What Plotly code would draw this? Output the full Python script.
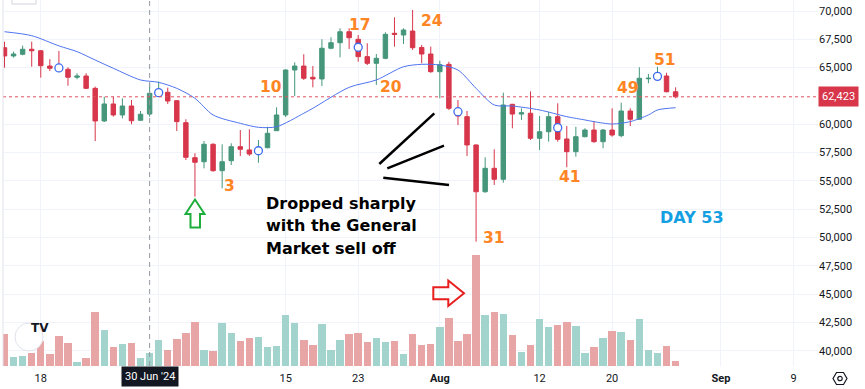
import pandas as pd
import plotly.graph_objects as go

# ---------------- data ----------------
dates = pd.date_range("2024-06-14", periods=75, freq="D")

open_ = [66760, 66030, 66180, 66620, 66490, 65140, 65140, 64850, 64150, 64260,
         63170, 60290, 61790, 60820, 61610, 60350, 60900, 62730, 62820, 62080,
         60140, 57050, 56690, 58230, 55900, 56780, 58020, 57730, 57550, 57930,
         59430, 60820, 64790, 65140, 64150, 64000, 66710, 67200, 68170, 67500,
         65970, 65380, 65820, 68030, 67880, 68230, 66780, 66200, 64640, 65290,
         61320, 60670, 58170, 54040, 56110, 55140, 61760, 60900, 60970, 58760,
         59340, 60670, 58700, 57580, 58900, 59490, 58460, 59490, 58990, 61170,
         60440, 64020, 64170, 64260, 62870]
high = [67290, 66410, 66940, 67290, 66550, 65740, 66470, 65030, 64500, 64500,
        63320, 62430, 62430, 62290, 62140, 61170, 63620, 63760, 63230, 62140,
        60440, 57440, 58520, 58320, 58230, 58320, 59490, 59550, 58610, 59780,
        61500, 64850, 65470, 66180, 65140, 67500, 67680, 68470, 68470, 67880,
        67150, 66200, 68120, 69440, 68470, 70090, 67000, 66850, 65610, 65520,
        62140, 61170, 58230, 57080, 57790, 62790, 61800, 61410, 62900, 60730,
        61110, 61850, 59850, 59780, 59640, 60290, 59580, 61410, 61900, 61410,
        65030, 64440, 65080, 64550, 63260]
low = [64990, 65880, 66090, 65080, 64110, 64700, 64880, 63400, 63970, 63100,
       58520, 60200, 60670, 60520, 60000, 60310, 60670, 62670, 61790, 59400,
       56840, 53600, 56110, 55810, 54340, 56400, 57200, 57200, 56600, 57880,
       59430, 60640, 62490, 63910, 63260, 63380, 66620, 65910, 66650, 65520,
       65230, 63470, 65740, 66850, 67090, 66560, 65380, 64550, 62290, 61260,
       59930, 57200, 49630, 53950, 54640, 54840, 59640, 60380, 58610, 57730,
       58460, 58460, 56200, 57140, 58850, 58370, 57880, 58900, 58850, 59850,
       60380, 63620, 64080, 62820, 62290]
close = [66030, 66200, 66620, 66490, 65170, 64940, 64970, 64150, 64260, 63170,
         60290, 61790, 60820, 61610, 60310, 60880, 62730, 63020, 62050, 60230,
         57080, 56640, 58230, 55900, 56690, 58020, 57790, 57370, 57900, 59200,
         60820, 64790, 65140, 64060, 64000, 66710, 67200, 68170, 67640, 65970,
         65380, 65820, 67940, 67940, 68320, 66760, 66200, 64640, 65260, 61410,
         60730, 58170, 54040, 56110, 55140, 61700, 60900, 61020, 58760, 59340,
         60670, 58670, 57580, 58900, 59490, 58460, 59490, 59050, 61170, 60440,
         64060, 64060, 64350, 62870, 62423]
volume = [32.3, 9.0, 10.3, 13.3, 25.0, 12.3, 29.7, 22.7, 4.0, 8.3,
          54.0, 36.0, 19.0, 21.7, 23.3, 8.0, 13.0, 26.0, 15.7, 27.3,
          32.7, 43.7, 16.3, 14.7, 43.3, 32.7, 25.0, 28.3, 29.3, 19.0,
          20.0, 51.0, 43.3, 25.7, 21.0, 41.7, 16.0, 25.7, 32.3, 32.7,
          24.3, 27.7, 24.3, 25.3, 11.7, 31.7, 21.3, 22.0, 39.3, 47.7,
          25.0, 32.3, 111.0, 51.0, 53.7, 52.3, 30.7, 14.0, 20.7, 46.7,
          39.0, 41.0, 43.7, 40.0, 12.7, 18.7, 28.0, 35.0, 34.0, 26.0,
          47.0, 16.0, 12.7, 20.3, 5.0]

# moving average (read at selected candles)
ma_idx = [0, 3, 6, 8, 10, 12, 15, 17, 19, 21, 23, 26, 28, 30, 33, 34, 38, 41, 44,
          46, 48, 50, 52, 54, 56, 59, 62, 64, 65, 67, 69, 71, 72, 74]
ma_vals = [68170, 67820, 66920, 66410, 65670, 64940, 63910, 63700, 63170, 62290,
           60820, 60080, 59730, 59780, 60970, 61410, 63260, 63910, 65080, 65290,
           65230, 64790, 63170, 61700, 61610, 61260, 60670, 60380, 60230, 60020,
           60230, 60820, 61260, 61460]

# event markers (hollow circles)
event_idx = [6, 17, 28, 39, 50, 61, 72]
event_vals = [64970, 62790, 57660, 66800, 61110, 59700, 64230]

last_price = 62423

# day-count labels
day_labels = ["3", "10", "17", "20", "24", "31", "41", "49", "51"]
day_x = ["2024-07-08 19:12", "2024-07-13 08:00", "2024-07-23 04:00", "2024-07-26 14:24",
         "2024-07-31 02:00", "2024-08-06 22:48", "2024-08-15 07:12", "2024-08-21 19:12",
         "2024-08-25 21:00"]
day_y = [54550, 63250, 68740, 63250, 69130, 50000, 55370, 63220, 65670]

tick_vals = ["2024-06-18", "2024-07-01", "2024-07-15", "2024-07-23", "2024-08-01",
             "2024-08-12", "2024-08-20", "2024-09-01", "2024-09-09"]
tick_text = ["18", "", "15", "23", "<b>Aug</b>", "12", "20", "<b>Sep</b>", "9"]
price_ticks = [v for v in range(40000, 70001, 2500) if v != 62500]

# ---------------- styling ----------------
UP = "#45967a"
DOWN = "#d7364b"
VOL_UP = "#a3d3cd"
VOL_DOWN = "#e8a5a5"
ORANGE = "#ff8424"
FONT = "Roboto"
BOLD = "DejaVu Sans"

# pixel -> paper helper for decorations (plot area 815 x 366 starting at x=3, y=0)
def P(x, y):
    return (x - 3) / 815.0, (366 - y) / 366.0

def path(points):
    s = ""
    for k, (x, y) in enumerate(points):
        px, py = P(x, y)
        s += ("M" if k == 0 else "L") + f"{px:.5f},{py:.5f} "
    return s + "Z"

fig = go.Figure()

vol_colors = [VOL_UP if c >= o else VOL_DOWN for o, c in zip(open_, close)]
fig.add_trace(go.Bar(x=dates, y=volume, marker=dict(color=vol_colors, line=dict(width=0)),
                     width=0.82 * 86400000, yaxis="y2", showlegend=False, hoverinfo="skip"))

fig.add_trace(go.Candlestick(
    x=dates, open=open_, high=high, low=low, close=close,
    increasing=dict(line=dict(color=UP, width=1), fillcolor=UP),
    decreasing=dict(line=dict(color=DOWN, width=1), fillcolor=DOWN),
    whiskerwidth=0, showlegend=False))

fig.add_trace(go.Scatter(x=[dates[i] for i in ma_idx], y=ma_vals, mode="lines",
                         line=dict(color="#4f74f0", width=1, shape="spline", smoothing=0.8),
                         showlegend=False, hoverinfo="skip"))

fig.add_trace(go.Scatter(x=[dates[i] for i in event_idx], y=event_vals, mode="markers",
                         marker=dict(symbol="circle", size=8, color="white",
                                     line=dict(color="#3d6cf0", width=1.3)),
                         showlegend=False, hoverinfo="skip"))

shapes = []
shapes.append(dict(type="line", xref="paper", x0=0, x1=1, yref="y", y0=last_price, y1=last_price,
                   line=dict(color="#e05262", width=1, dash="dot")))
shapes.append(dict(type="line", xref="x", x0="2024-06-30", x1="2024-06-30", yref="paper", y0=0, y1=1,
                   line=dict(color="#9598a1", width=1, dash="5px,4px")))
shapes.append(dict(type="line", xref="paper", x0=0, x1=0, yref="paper", y0=0, y1=1,
                   line=dict(color="#e0e3eb", width=1)))
for (x0, y0, x1, y1) in [(379.3, 164, 434.3, 113.3), (387.3, 168.3, 444, 145.7), (383.3, 177.7, 449, 185)]:
    a, b = P(x0, y0)
    c, d = P(x1, y1)
    shapes.append(dict(type="line", xref="paper", yref="paper", x0=a, y0=b, x1=c, y1=d,
                       line=dict(color="black", width=2.5)))
shapes.append(dict(type="path", xref="paper", yref="paper",
                   path=path([(195, 199.5), (204.5, 214), (200, 214), (200, 227.5),
                              (190.5, 227.5), (190.5, 214), (185.5, 214)]),
                   line=dict(color="#1fae3c", width=2), fillcolor="rgba(0,0,0,0)"))
shapes.append(dict(type="path", xref="paper", yref="paper",
                   path=path([(464, 293.3), (448.3, 306), (448.3, 299.3), (433.3, 299.3),
                              (433.3, 287.3), (448.3, 287.3), (448.3, 280.5)]),
                   line=dict(color="#e81e1e", width=2), fillcolor="rgba(0,0,0,0)"))
a, b = P(15, 351)
c, d = P(43, 323)
shapes.append(dict(type="circle", xref="paper", yref="paper", x0=a, y0=b, x1=c, y1=d,
                   line=dict(color="#e0e3eb", width=1), fillcolor="white"))
a, b = P(12, 4)
c, d = P(36, -6)
shapes.append(dict(type="rect", xref="paper", yref="paper", x0=a, y0=b, x1=c, y1=d,
                   line=dict(color="#d1d4dc", width=1), fillcolor="white"))
shapes.append(dict(type="path", xref="paper", yref="paper",
                   path=path([(847, 378.5), (843.5, 384.5), (836.5, 384.5), (833, 378.5),
                              (836.5, 372.5), (843.5, 372.5)]),
                   line=dict(color="#131722", width=1.2), fillcolor="rgba(0,0,0,0)"))
a, b = P(837.8, 380.7)
c, d = P(842.2, 376.3)
shapes.append(dict(type="circle", xref="paper", yref="paper", x0=a, y0=b, x1=c, y1=d,
                   line=dict(color="#131722", width=1.2)))

annotations = []
for t, x, y in zip(day_labels, day_x, day_y):
    annotations.append(dict(x=x, y=y, xref="x", yref="y", text=f"<b>{t}</b>", showarrow=False,
                            font=dict(family=BOLD, size=15.5, color=ORANGE)))
annotations.append(dict(x="2024-08-28 20:24", y=51780, xref="x", yref="y", text="<b>DAY 53</b>",
                        showarrow=False, font=dict(family=BOLD, size=16, color="#159fe3")))
for t, y in zip(["Dropped sharply", "with the General", "Market sell off"], [53046, 51016, 48985]):
    annotations.append(dict(x="2024-07-12 21:20", y=y, xref="x", yref="y", text=f"<b>{t}</b>",
                            showarrow=False, xanchor="left", align="left", xshift=-3,
                            font=dict(family=BOLD, size=16, color="black")))
annotations.append(dict(x=1, xref="paper", y=last_price, yref="y", text=f"{last_price:,}",
                        showarrow=False, xanchor="left", xshift=0, bgcolor=DOWN, borderpad=3,
                        font=dict(family=FONT, size=11, color="white")))
annotations.append(dict(x="2024-06-30", xref="x", y=P(0, 376)[1], yref="paper", text="30 Jun '24",
                        showarrow=False, yanchor="middle", bgcolor="#131722", borderpad=3,
                        font=dict(family=FONT, size=11, color="white")))
lx, ly = P(29, 337)
annotations.append(dict(x=lx, y=ly, xref="paper", yref="paper", text="<b>TV</b>", showarrow=False,
                        font=dict(family=BOLD, size=12, color="#131722")))

fig.update_layout(
    width=865, height=389,
    margin=dict(l=3, r=47, t=0, b=23, autoexpand=False),
    paper_bgcolor="white", plot_bgcolor="white",
    font=dict(family=FONT, size=11, color="#131722"),
    showlegend=False,
    xaxis=dict(type="date", range=["2024-06-13 20:02", "2024-09-11 16:48"],
               tickvals=tick_vals, ticktext=tick_text, ticks="", showgrid=True,
               gridcolor="#f0f3fa", gridwidth=1, zeroline=False, showline=False, automargin=False,
               ticklabelstandoff=4,
               rangeslider=dict(visible=False), tickfont=dict(size=11, color="#131722")),
    yaxis=dict(side="right", range=[38653, 70971], tickvals=price_ticks, tickformat=",",
               ticks="", showgrid=True, gridcolor="#f0f3fa", zeroline=False, showline=False,
               automargin=False, tickfont=dict(size=11, color="#131722")),
    yaxis2=dict(overlaying="y", range=[0, 366], visible=False, showgrid=False),
    bargap=0,
    shapes=shapes, annotations=annotations,
)

fig.write_html("out.html", config={"displayModeBar": False},
               post_script="document.body.style.margin='0';document.body.style.padding='0';"
                           "document.documentElement.style.overflow='hidden';")
